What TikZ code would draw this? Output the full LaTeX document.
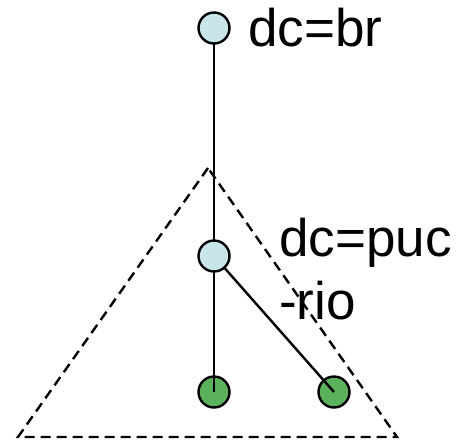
\documentclass[tikz,border=0pt]{standalone}
\usepackage{fontspec}
\setmainfont{Liberation Sans}
\pgfdeclarelayer{front}
\pgfsetlayers{main,front}
\definecolor{nodeblue}{RGB}{200,230,234}
\definecolor{leafgreen}{RGB}{92,178,92}
\tikzset{
  treenode/.style={circle, draw=black, line width=2.4pt, minimum size=31pt, inner sep=0pt},
  bluenode/.style={treenode, fill=nodeblue},
  leafnode/.style={treenode, fill=leafgreen},
  edge/.style={draw=black, line width=2.4pt},
  label text/.style={inner sep=0pt, font=\fontsize{53}{63}\selectfont},
  triangle/.style={draw=black, line width=2.4pt, dash pattern=on 10pt off 6pt}
}
\begin{document}
\begin{tikzpicture}[x=1pt, y=-1pt]
\useasboundingbox (0,0) rectangle (456,440);
% dashed triangle
\draw[triangle] (208,168) -- (18,437) -- (397,437) -- cycle;
% blue nodes on front layer
\begin{pgfonlayer}{front}
\node[bluenode] (top) at (214,28) {};
\node[bluenode] (mid) at (214,256) {};
\end{pgfonlayer}
% leaves
\node[leafnode] (leafa) at (214,392) {};
\node[leafnode] (leafb) at (334,392) {};
% edges
\draw[edge] (top.center) -- (mid.center);
\draw[edge] (mid.center) -- (leafa.center);
\draw[edge] (mid.center) -- (leafb.center);
% labels
\node[label text, anchor=base west] (topl) at (248,46) {dc=br};
\node[label text, anchor=north west, align=left] (midl) at (279,218) {dc=puc\\-rio};
\end{tikzpicture}
\end{document}
